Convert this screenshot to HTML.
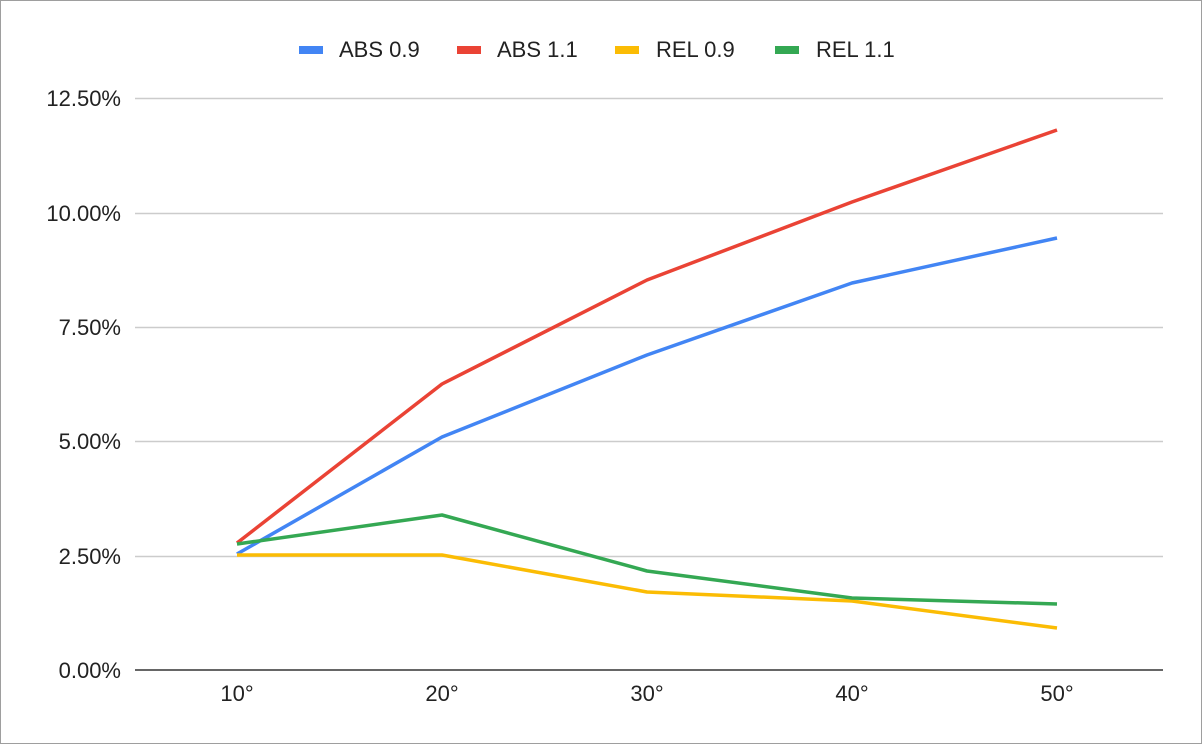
<!DOCTYPE html>
<html><head><style>
body{margin:0;background:#fff}
svg{display:block}
text{font-family:"Liberation Sans",Arial,sans-serif;font-size:22px;fill:#222}
</style></head><body>
<svg width="1202" height="744" xmlns="http://www.w3.org/2000/svg">
<rect x="0.5" y="0.5" width="1201" height="743" fill="#fff" stroke="#9e9e9e"/>
<g stroke="#ccc" stroke-width="1.5">
<line x1="135" x2="1163" y1="98.5" y2="98.5"/>
<line x1="135" x2="1163" y1="213.5" y2="213.5"/>
<line x1="135" x2="1163" y1="327.5" y2="327.5"/>
<line x1="135" x2="1163" y1="441.5" y2="441.5"/>
<line x1="135" x2="1163" y1="556.5" y2="556.5"/>
</g>
<line x1="135" x2="1163" y1="670" y2="670" stroke="#333" stroke-width="1.5"/>
<g text-anchor="end">
<text x="121" y="106">12.50%</text>
<text x="121" y="221">10.00%</text>
<text x="121" y="335">7.50%</text>
<text x="121" y="449">5.00%</text>
<text x="121" y="564">2.50%</text>
<text x="121" y="678">0.00%</text>
</g>
<g text-anchor="middle">
<text x="237" y="701">10°</text>
<text x="442" y="701">20°</text>
<text x="647" y="701">30°</text>
<text x="852" y="701">40°</text>
<text x="1057" y="701">50°</text>
</g>
<g fill="none" stroke-width="3.5" stroke-linejoin="round">
<polyline stroke="#4285f4" points="237,554 442,437 647,355 852,283 1057,238"/>
<polyline stroke="#ea4335" points="237,543 442,384 647,280 852,202 1057,130"/>
<polyline stroke="#fbbc04" points="237,555 442,555 647,592 852,601 1057,628"/>
<polyline stroke="#34a853" points="237,544 442,515 647,571 852,598 1057,604"/>
</g>
<rect x="299" y="46" width="24" height="8" fill="#4285f4"/>
<text x="339" y="57">ABS 0.9</text>
<rect x="457" y="46" width="24" height="8" fill="#ea4335"/>
<text x="497" y="57">ABS 1.1</text>
<rect x="615" y="46" width="24" height="8" fill="#fbbc04"/>
<text x="656" y="57">REL 0.9</text>
<rect x="775" y="46" width="24" height="8" fill="#34a853"/>
<text x="816" y="57">REL 1.1</text>
</svg>
</body></html>
